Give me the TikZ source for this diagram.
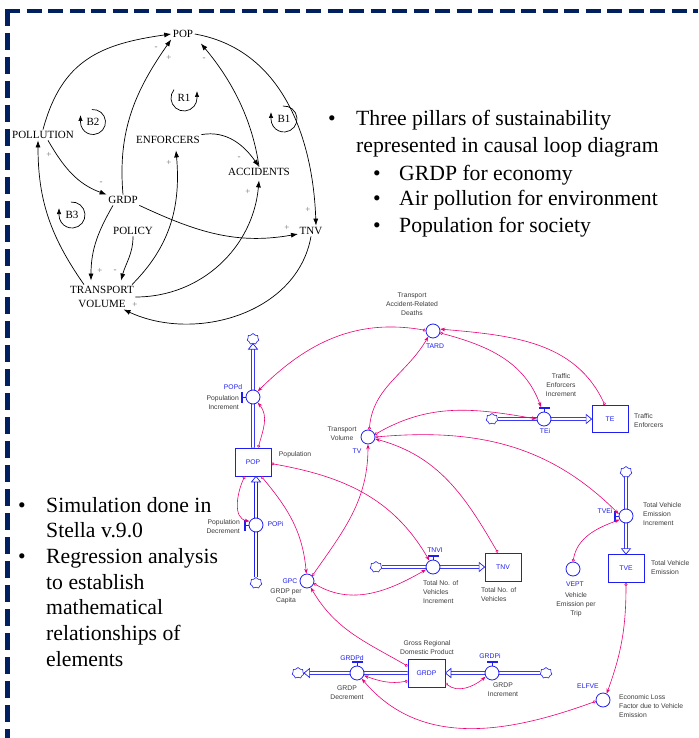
\documentclass[tikz,border=0pt]{standalone}
\usepackage{fontspec}
\setmainfont{Liberation Serif}
\newfontfamily\stfont{Liberation Sans}
\usetikzlibrary{arrows.meta,shapes.symbols}
\definecolor{sblue}{RGB}{30,30,240}
\definecolor{spink}{RGB}{235,0,120}
\definecolor{sgray}{RGB}{60,60,60}
\definecolor{navy}{RGB}{0,32,96}
\tikzset{
  fhead/.pic={\draw[sblue, line width=0.7pt, fill=white] (0,0) -- (-5.5,4.5) -- (-5.5,-4.5) -- cycle;},
  vhandle/.pic={\draw[sblue, line width=0.8pt] (0,0) -- (0,2.5); \fill[sblue] (-5.5,2.5) rectangle (5.5,4.5);}
}
\begin{document}
\begin{tikzpicture}[x=1pt,y=1pt,
  cld/.style={font=\fontsize{11}{13}\selectfont, inner sep=1.5pt, align=center},
  cl/.style={line width=0.7pt, -{Latex[length=7pt,width=5pt]}},
  sg/.style={font=\fontsize{9}{9}\selectfont, text=black!55, inner sep=0pt},
  loopar/.style={line width=0.7pt, -{Latex[length=6pt,width=4.5pt]}},
  big/.style={font=\fontsize{21.7}{26}\selectfont, inner sep=0pt, anchor=base west},
  bul/.style={font=\fontsize{21.7}{26}\selectfont, inner sep=0pt, anchor=base},
  stock/.style={draw=sblue, line width=0.8pt, fill=white, minimum width=36pt, minimum height=28pt, inner sep=0pt, font=\stfont\fontsize{6.8}{8}\selectfont, text=sblue},
  aux/.style={circle, draw=sblue, line width=0.8pt, fill=white, minimum size=14pt, inner sep=0pt},
  cloudn/.style={cloud, cloud puffs=7, aspect=1, draw=sblue, line width=0.6pt, fill=white, minimum width=12pt, minimum height=11pt, inner sep=0pt},
  lab/.style={font=\stfont\fontsize{6.8}{9}\selectfont, text=sgray, inner sep=0pt, align=center},
  vn/.style={font=\stfont\fontsize{6.8}{9}\selectfont, text=sblue, inner sep=0pt},
  pipe/.style={draw=sblue, line width=0.7pt, double=white, double distance=2.4pt},
  cn/.style={draw=spink, line width=0.6pt, {Circle[open,length=3pt,width=3pt]}-{Stealth[length=5pt,width=3.6pt]}},
]
\useasboundingbox (0,0) rectangle (698,-738);
\fill[white] (0,0) rectangle (698,-738);
% frame
\draw[navy, line width=4pt, dash pattern=on 15pt off 6.5pt] (5,-11) -- (698,-11);
\draw[navy, line width=4.5pt, dash pattern=on 17pt off 7pt] (7.5,-9) -- (7.5,-738);

% ---------------- causal loop diagram ----------------
\node[cld] (CPOP) at (183,-34) {POP};
\node[cld] (CPOLL) at (43,-135) {POLLUTION};
\node[cld] (CENF) at (168,-140) {ENFORCERS};
\node[cld] (CACC) at (259,-172) {ACCIDENTS};
\node[cld] (CGRDP) at (123,-200) {GRDP};
\node[cld] (CPOL) at (133,-231) {POLICY};
\node[cld] (CTNV) at (311,-231) {TNV};
\node[cld, font=\fontsize{11}{14}\selectfont] (CTV) at (102,-297) {TRANSPORT\\VOLUME};

\draw[cl] (CPOLL.north) to[out=75,in=188,looseness=1.15] (CPOP.west);
\draw[cl] (CGRDP.north) to[out=95,in=235] (CPOP.south west);
\draw[cl] (CACC.north) to[out=98,in=-50,looseness=0.9] ([xshift=6pt,yshift=-4pt]CPOP.south east);
\draw[cl] (CPOP.east) to[out=-10,in=92] ([xshift=5pt]CTNV.north);
\draw[cl] (CENF.north east) to[out=10,in=125] (CACC.north);
\draw[cl] ([xshift=5pt]CPOLL.south) to[out=-60,in=160] (CGRDP.north west);
\draw[cl] ([xshift=-18pt]CTV.north) to[out=125,in=-90] ([xshift=-5pt]CPOLL.south);
\draw[cl] (CGRDP.south east) to[out=-25,in=190] ([yshift=-3pt]CTNV.west);
\draw[cl] ([xshift=-10pt]CGRDP.south) to[out=-120,in=90] ([xshift=-11pt,yshift=4pt]CTV.north);
\draw[cl] (CPOL.south) to[out=-90,in=75] ([xshift=19pt,yshift=4pt]CTV.north);
\draw[cl] ([xshift=30pt]CTV.north) to[out=45,in=-85] ([xshift=8pt,yshift=-5pt]CENF.south);
\draw[cl] (CTV.east) to[out=0,in=-95] ([yshift=-3pt]CACC.south);
\draw[cl] (CTNV.south) to[out=-100,in=-25] ([xshift=-12pt]CTV.south east);

\node[sg] (s1) at (156,-48) {-};
\node[sg] (s2) at (169,-58) {+};
\node[sg] (s3) at (204,-59) {-};
\node[sg] (s4) at (308,-210) {+};
\node[sg] (s5) at (239,-158) {-};
\node[sg] (s6) at (101,-183) {-};
\node[sg] (s7) at (49,-155) {+};
\node[sg] (s8) at (287,-228) {+};
\node[sg] (s9) at (100,-271) {+};
\node[sg] (s10) at (115,-271) {-};
\node[sg] (s11) at (169,-163) {+};
\node[sg] (s12) at (248,-192) {+};
\node[sg] (s13) at (135,-305) {+};

\node[cld] (R1) at (184,-98) {R1};
\draw[loopar] (R1.center) ++(140:13) arc[start angle=140, end angle=360, radius=13] -- ++(0,7);
\node[cld] (B2) at (93,-122) {B2};
\draw[loopar] (B2.center) ++(95:12.5) arc[start angle=95, end angle=-180, radius=12.5] -- ++(0,7);
\node[cld] (B1) at (284,-119) {B1};
\draw[loopar] (B1.center) ++(95:13) arc[start angle=95, end angle=-180, radius=13] -- ++(0,7);
\node[cld] (B3) at (72,-215) {B3};
\draw[loopar] (B3.center) ++(95:13) arc[start angle=95, end angle=-180, radius=13] -- ++(0,7);

% ---------------- bullet texts ----------------
\node[bul] (bu1) at (332,-126) {•};
\node[big] (tx1) at (356,-126) {Three pillars of sustainability};
\node[big] (tx2) at (356,-152.5) {represented in causal loop diagram};
\node[bul] (bu2) at (377,-180) {•};
\node[big] (tx3) at (399,-180) {GRDP for economy};
\node[bul] (bu3) at (377,-205.5) {•};
\node[big] (tx4) at (399,-205.5) {Air pollution for environment};
\node[bul] (bu4) at (377,-232) {•};
\node[big] (tx5) at (399,-232) {Population for society};

\node[bul] (bu5) at (22,-512) {•};
\node[big] (tx6) at (46,-512) {Simulation done in};
\node[big] (tx7) at (46,-537.5) {Stella v.9.0};
\node[bul] (bu6) at (22,-563) {•};
\node[big] (tx8) at (46,-563) {Regression analysis};
\node[big] (tx9) at (46,-589) {to establish};
\node[big] (tx10) at (46,-614.5) {mathematical};
\node[big] (tx11) at (46,-640) {relationships of};
\node[big] (tx12) at (46,-666) {elements};

% ---------------- stock and flow diagram ----------------
\node[stock] (POP) at (253,-462) {POP};
\node[stock, minimum height=27pt] (TE) at (610,-419) {TE};
\node[stock] (TNV) at (503,-567) {TNV};
\node[stock] (TVE) at (626,-568.5) {TVE};
\node[stock, minimum width=37pt] (GRDP) at (426.5,-673) {GRDP};

\node[cloudn] (c1) at (253,-339) {};
\node[cloudn] (c2) at (256,-583) {};
\node[cloudn] (c3) at (492,-419) {};
\node[cloudn] (c4) at (376,-567) {};
\node[cloudn] (c5) at (626,-472) {};
\node[cloudn] (c6) at (546,-673) {};
\node[cloudn] (c7) at (298,-673) {};

\draw[pipe] (POP.north) -- ([yshift=-5pt]c1.south);
\pic[rotate=90] at (c1.south) {fhead};
\draw[pipe] (c2.north) -- ([xshift=3pt,yshift=-5pt]POP.south);
\pic[rotate=90] at ([xshift=3pt]POP.south) {fhead};
\draw[pipe] (c3.east) -- ([xshift=-5pt]TE.west);
\pic at (TE.west) {fhead};
\draw[pipe] (c4.east) -- ([xshift=-5pt]TNV.west);
\pic at (TNV.west) {fhead};
\draw[pipe] (c5.south) -- ([yshift=5pt]TVE.north);
\pic[rotate=-90] at (TVE.north) {fhead};
\draw[pipe] (c6.west) -- ([xshift=5pt]GRDP.east);
\pic[rotate=180] at (GRDP.east) {fhead};
\draw[pipe] (GRDP.west) -- ([xshift=5pt]c7.east);
\pic[rotate=180] at (c7.east) {fhead};

\node[aux] (POPd) at (253,-397) {};
\node[aux] (POPi) at (256,-525) {};
\node[aux] (TEi) at (544,-419) {};
\node[aux] (TNVI) at (433,-567) {};
\node[aux] (TVEi) at (626,-516) {};
\node[aux] (GRDPi) at (492,-673) {};
\node[aux] (GRDPd) at (357,-673) {};
\node[aux] (TARD) at (433,-331) {};
\node[aux] (TV) at (368,-437) {};
\node[aux] (GPC) at (307,-581) {};
\node[aux] (VEPT) at (573,-569) {};
\node[aux] (ELFVE) at (603,-700) {};

\pic[rotate=90] at (POPd.west) {vhandle};
\pic[rotate=90] at (POPi.west) {vhandle};
\pic at (TEi.north) {vhandle};
\pic at (TNVI.north) {vhandle};
\pic[rotate=90] at (TVEi.west) {vhandle};
\pic at (GRDPi.north) {vhandle};
\pic at (GRDPd.north) {vhandle};

% connectors
\draw[cn] (POP.70) to[out=75,in=-50] (POPd.-50);
\draw[cn] (POP.-120) to[out=-115,in=170] (POPi.150);
\draw[cn] (TARD.175) to[out=170,in=45] (POPd.50);
\draw[cn] (POP.-60) to[out=-50,in=95] (GPC.95);
\draw[cn] (POP.-5) to[out=-10,in=120] (TNVI.120);
\draw[cn] (GPC.45) to[out=55,in=-90] (TV.-90);
\draw[cn] (GPC.-20) to[out=-30,in=-150] (TNVI.-160);
\draw[cn] (TV.80) to[out=85,in=-120] (TARD.-130);
\draw[cn] (TE.110) to[out=115,in=-5] (TARD.15);
\draw[cn] (TARD.-15) to[out=-15,in=110] ([xshift=-3pt,yshift=4.5pt]TEi.north);
\draw[cn] (TV.20) to[out=30,in=170] (TEi.180);
\draw[cn] (TV.0) to[out=5,in=135] (TVEi.165);
\draw[cn] (TNV.110) to[out=120,in=-15] (TV.-15);
\draw[cn] (VEPT.90) to[out=80,in=-160] (TVEi.-150);
\draw[cn] (TVE.-90) to[out=-90,in=70] (ELFVE.60);
\draw[cn] (ELFVE.-170) to[out=-160,in=-50] (GRDPd.-50);
\draw[cn] (GRDP.-157) to[out=-170,in=-20] (GRDPd.-20);
\draw[cn] (GRDP.-28) to[out=-40,in=-140] (GRDPi.-150);
\draw[cn] (GRDP.160) to[out=150,in=-60] (GPC.-60);

% labels
\node[lab] (lPOP) at (295,-455) {Population};
\node[vn] (nPOPd) at (233,-387) {POPd};
\node[lab, align=right, anchor=east] (lPOPd) at (239,-402.5) {Population\\Increment};
\node[vn] (nPOPi) at (275.5,-524) {POPi};
\node[lab, align=right, anchor=east] (lPOPi) at (240,-527) {Population\\Decrement};
\node[lab] (lTARD) at (412,-304) {Transport\\Accident-Related\\Deaths};
\node[vn] (nTARD) at (435,-346) {TARD};
\node[lab] (lTEi) at (561,-385) {Traffic\\Enforcers\\Increment};
\node[vn] (nTEi) at (545,-431) {TEi};
\node[lab, align=left, anchor=west] (lTE) at (634,-420.5) {Traffic\\Enforcers};
\node[lab] (lTV) at (342,-433.5) {Transport\\Volume};
\node[vn] (nTV) at (357,-451) {TV};
\node[vn] (nGPC) at (290,-581) {GPC};
\node[lab] (lGPC) at (286,-596.5) {GRDP per\\Capita};
\node[vn] (nTNVI) at (435,-550) {TNVI};
\node[lab, align=left, anchor=west] (lTNVI) at (423,-592) {Total No. of\\Vehicles\\Increment};
\node[lab, align=left, anchor=west] (lTNV) at (481,-595) {Total No. of\\Vehicles};
\node[vn] (nTVEi) at (605,-511) {TVEi};
\node[lab, align=left, anchor=west] (lTVEi) at (643,-514) {Total Vehicle\\Emission\\Increment};
\node[lab, align=left, anchor=west] (lTVE) at (651,-567.5) {Total Vehicle\\Emission};
\node[vn] (nVEPT) at (575,-584) {VEPT};
\node[lab] (lVEPT) at (576,-605) {Vehicle\\Emission per\\Trip};
\node[vn] (nELFVE) at (588,-686) {ELFVE};
\node[lab, align=left, anchor=west] (lELFVE) at (619,-706) {Economic Loss\\Factor due to Vehicle\\Emission};
\node[lab] (lGRDP) at (427,-647.5) {Gross Regional\\Domestic Product};
\node[vn] (nGRDPi) at (490,-656) {GRDPi};
\node[lab] (lGRDPi) at (503,-689.5) {GRDP\\Increment};
\node[vn] (nGRDPd) at (352,-658) {GRDPd};
\node[lab] (lGRDPd) at (347,-692.5) {GRDP\\Decrement};
\end{tikzpicture}
\end{document}
